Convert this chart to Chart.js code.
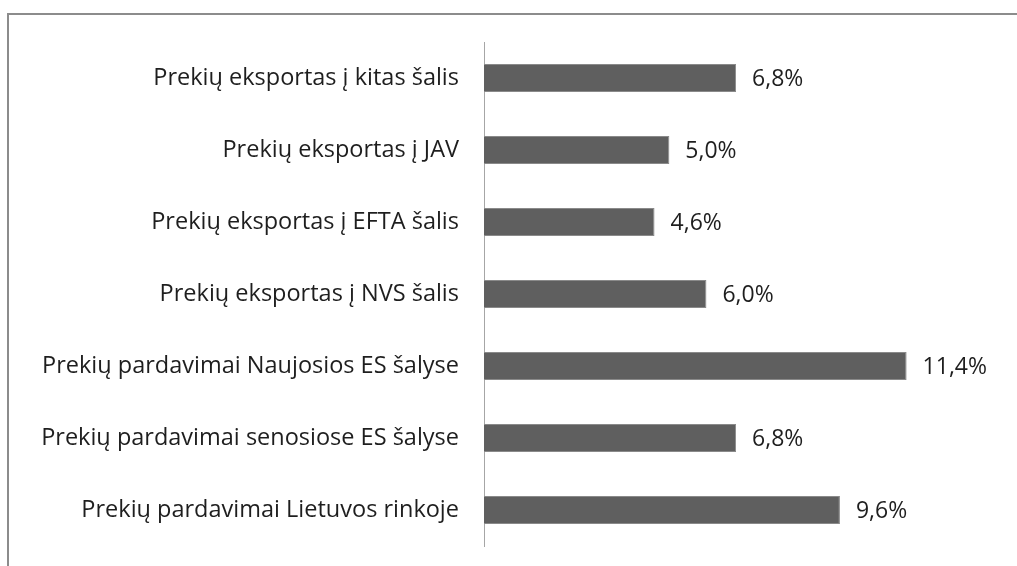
<!DOCTYPE html>
<html>
<head>
<meta charset="utf-8">
<script src="https://cdn.jsdelivr.net/npm/chart.js@4"></script>
<style>
  html, body { margin: 0; padding: 0; background: #fff; }
  #wrap { position: relative; width: 1017px; height: 566px; overflow: hidden; }
  #frame { position: absolute; left: 7px; top: 13px; right: -5px; bottom: -5px;
           border-top: 2px solid #8c8c8c; border-left: 2px solid #8c8c8c; }
  canvas { position: absolute; left: 0; top: 0; }
</style>
</head>
<body>
<div id="wrap">
  <div id="frame"></div>
  <canvas id="chart" width="1017" height="566"></canvas>
</div>
<script>
const categories = [
  'Prekių eksportas į kitas šalis',
  'Prekių eksportas į JAV',
  'Prekių eksportas į EFTA šalis',
  'Prekių eksportas į NVS šalis',
  'Prekių pardavimai Naujosios ES šalyse',
  'Prekių pardavimai senosiose ES šalyse',
  'Prekių pardavimai Lietuvos rinkoje'
];
const growth = [6.8, 5.0, 4.6, 6.0, 11.4, 6.8, 9.6];

const FONT = '"Open Sans", "DejaVu Sans", sans-serif';

// value labels to the right of each bar
const valueLabels = {
  id: 'valueLabels',
  afterDatasetsDraw(chart) {
    const ctx = chart.ctx;
    const meta = chart.getDatasetMeta(0);
    ctx.save();
    ctx.font = '23px ' + FONT;
    ctx.fillStyle = '#1e1e1e';
    ctx.textAlign = 'left';
    ctx.textBaseline = 'middle';
    meta.data.forEach((bar, i) => {
      ctx.fillText(growth[i].toFixed(1).replace('.', ',') + '%', bar.x + 16, bar.y + 1);
    });
    ctx.restore();
  }
};

new Chart(document.getElementById('chart'), {
  type: 'bar',
  data: {
    labels: categories,
    datasets: [{
      data: growth,
      backgroundColor: '#5f5f5f',
      borderColor: '#8a8a8a',
      borderWidth: 1,
      barPercentage: 0.39,
      categoryPercentage: 1
    }]
  },
  options: {
    indexAxis: 'y',
    responsive: false,
    animation: false,
    layout: { padding: { top: 42, bottom: 20, right: 14, left: 0 } },
    plugins: { legend: { display: false }, tooltip: { enabled: false } },
    scales: {
      x: { display: false, min: 0, max: 14 },
      y: {
        afterFit(scale) {
          scale.width = 484;
          // labels sit mid-band, no extra room needed above/below
          scale.paddingTop = 0;
          scale.paddingBottom = 0;
        },
        grid: { drawOnChartArea: false, drawTicks: false },
        border: { display: true, color: '#a6a6a6', width: 1 },
        ticks: { color: '#1e1e1e', padding: 25, font: { family: FONT, size: 23.5 } }
      }
    }
  },
  plugins: [valueLabels]
});
</script>
</body>
</html>
